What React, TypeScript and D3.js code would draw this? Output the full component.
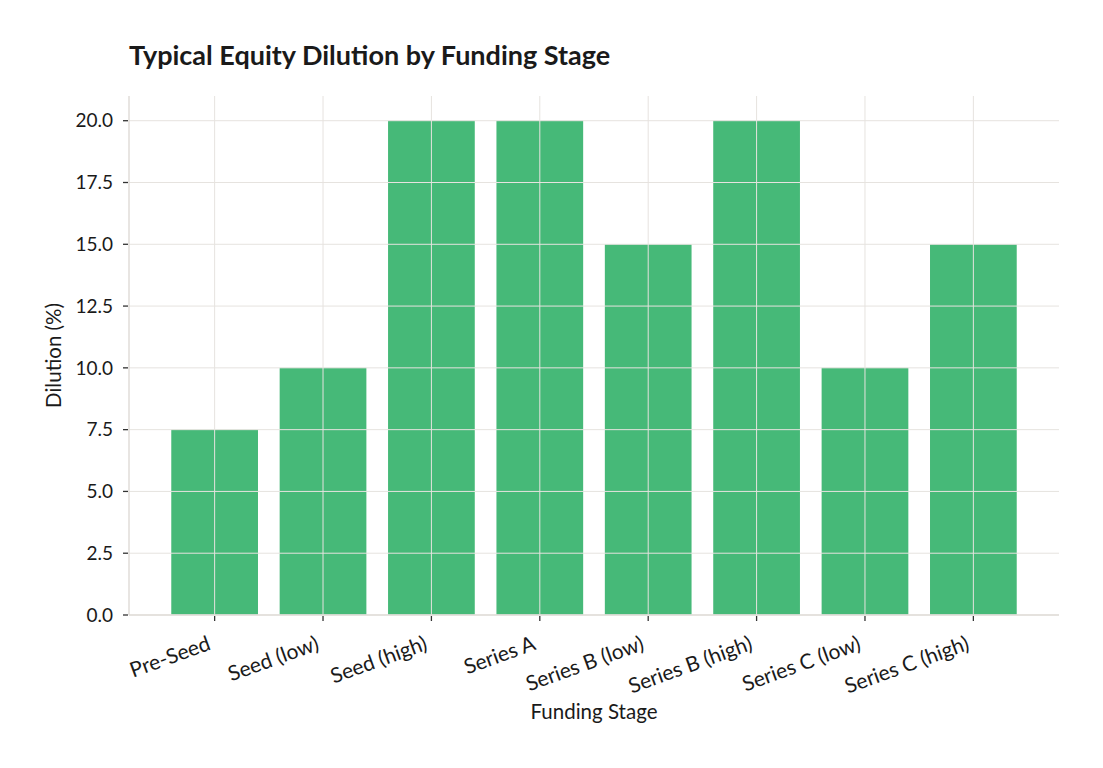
import React from "react";
import * as d3 from "d3";

const categories = ["Pre-Seed", "Seed (low)", "Seed (high)", "Series A", "Series B (low)", "Series B (high)", "Series C (low)", "Series C (high)"];
const dilution = [7.5, 10, 20, 20, 15, 20, 10, 15];
const yTicks = [0, 2.5, 5, 7.5, 10, 12.5, 15, 17.5, 20];

const W = 1103, H = 768;
const left = 129, right = 1059, top = 96, bottom = 615;
const FONT = "Lato, 'Open Sans', sans-serif";

export default function App() {
  const n = categories.length;
  const x = d3.scaleLinear().domain([-0.4 - 0.39, n - 1 + 0.4 + 0.39]).range([left, right]);
  const y = d3.scaleLinear().domain([0, 21]).range([bottom, top]);
  const bw = x(0.8) - x(0);
  const grid = "#e6e3df";
  return (
    <svg width={W} height={H} style={{ position: "absolute", left: 0, top: 0, background: "#fff" }}>
      <text x={129} y={65} fontFamily={FONT} fontWeight={700} fontSize={27} fill="#1a1a1a">Typical Equity Dilution by Funding Stage</text>
      {dilution.map((v, i) => (
        <rect key={i} x={x(i) - bw / 2} y={y(v)} width={bw} height={y(0) - y(v)} fill="#46b978" />
      ))}
      {yTicks.map((t) => (
        <line key={"gy" + t} x1={left} x2={right} y1={y(t)} y2={y(t)} stroke={grid} strokeWidth={1} />
      ))}
      {categories.map((c, i) => (
        <line key={"gx" + i} x1={x(i)} x2={x(i)} y1={top} y2={bottom} stroke={grid} strokeWidth={1} />
      ))}
      <line x1={left} x2={left} y1={top} y2={bottom} stroke="#e0ddd8" strokeWidth={1.5} />
      <line x1={left} x2={right} y1={bottom} y2={bottom} stroke="#e0ddd8" strokeWidth={1.5} />
      {yTicks.map((t) => (
        <g key={"ty" + t}>
          <line x1={left - 6} x2={left - 1} y1={y(t)} y2={y(t)} stroke="#333" strokeWidth={1.3} />
          <text x={left - 16} y={y(t)} dy="0.35em" textAnchor="end" fontFamily={FONT} fontSize={19} fill="#1a1a1a">{t.toFixed(1)}</text>
        </g>
      ))}
      {categories.map((c, i) => (
        <g key={"tx" + i}>
          <line x1={x(i)} x2={x(i)} y1={bottom + 1} y2={bottom + 6} stroke="#333" strokeWidth={1.3} />
          <text transform={`translate(${x(i) - 8},${bottom + 20}) rotate(-20)`} textAnchor="end" dy="0.72em" fontFamily={FONT} fontSize={21} fill="#1a1a1a">{c}</text>
        </g>
      ))}
      <text x={(left + right) / 2} y={719} textAnchor="middle" fontFamily={FONT} fontSize={20.5} fill="#1a1a1a">Funding Stage</text>
      <text transform={`translate(61,${(top + bottom) / 2}) rotate(-90)`} textAnchor="middle" fontFamily={FONT} fontSize={20.5} fill="#1a1a1a">Dilution (%)</text>
    </svg>
  );
}
